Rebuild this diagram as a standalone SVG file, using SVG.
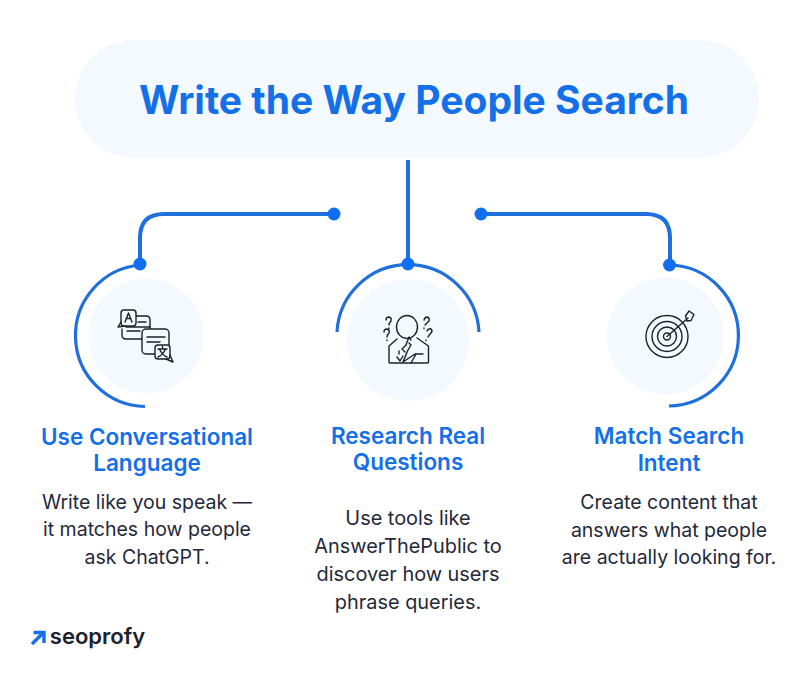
<svg xmlns="http://www.w3.org/2000/svg" width="809" height="676" viewBox="0 0 809 676">
<style>
text{font-family:"Inter","Liberation Sans",sans-serif;text-anchor:middle}
.h{font-size:22.500px;font-weight:600;fill:#1470e8}
.b{font-size:19.500px;font-weight:400;fill:#24293a}
.m{font-size:19.900px;font-weight:400;fill:#24293a}
.t{font-size:39px;font-weight:700;fill:#1470e8}
.bg{fill:#f4f8ff}
.arc{fill:none;stroke:#1f6fdc;stroke-width:3.2}
.con{fill:none;stroke:#1f6fdc;stroke-width:4}
.dot{fill:#0f6ef2}
.i{fill:none;stroke:#1d2029;stroke-width:1.400;stroke-linecap:round;stroke-linejoin:round}
</style>
<rect width="809" height="676" fill="#fff"/>
<g id="title"><rect class="bg" x="75" y="40" width="684" height="118" rx="59"/><text class="t" x="414" y="113.500">Write the Way People Search</text></g>
<g id="connectors">
<path class="con" d="M408 160V264"/>
<path class="con" d="M140 264V238Q140 214 164 214H334"/>
<path class="con" d="M481 214H646Q670 214 670 238V265"/>
<circle class="dot" cx="334" cy="214" r="6.500"/>
<circle class="dot" cx="481" cy="214" r="6.500"/>
</g>
<g id="node-left">
<circle class="bg" cx="146" cy="336" r="57.500"/>
<path class="arc" d="M140 265A70.900 70.900 0 0 0 145 406.500"/>
<circle class="dot" cx="140" cy="264" r="6.500"/>
<g class="i">
<path d="M136 316H146Q150 316 150 320V335Q150 339 146 339H126Q122 339 122 335V329"/>
<path d="M126 327H150M127 331H140M138 322H146"/>
<rect x="121" y="310" width="15" height="16" rx="3" fill="#f4f8ff"/><path d="M121 322L118 327L125 326M125 322L128.500 313L132 322M126.500 318.500H130.500"/>
<rect x="142" y="329" width="27" height="25" rx="4" fill="#f4f8ff"/>
<path d="M147 337H165M147 342H160"/>
<rect x="155" y="345" width="15" height="14" rx="3" fill="#f4f8ff"/><path d="M170 355L173 362L166 359M158 349H167M162.500 346.500V349M159.500 349Q162 355 167 357M165.500 349Q163 355 158 357"/>
</g>
<text class="h" x="147" y="445">Use Conversational</text><text class="h" x="147" y="471">Language</text>
<text class="b" x="147" y="509">Write like you speak —</text><text class="b" x="147" y="536">it matches how people</text><text class="b" x="147" y="564">ask ChatGPT.</text>
</g>
<g id="node-middle">
<circle class="bg" cx="408" cy="340" r="61"/>
<path class="arc" d="M337 332A71.100 71.100 0 0 1 479 332"/>
<circle class="dot" cx="408" cy="264" r="6.500"/>
<g class="i">
<ellipse cx="407" cy="327" rx="10.500" ry="11.500"/>
<path d="M397 339L389 346V362Q389 363 390 363H427.500Q428.500 363 428.500 362V346L417 338"/>
<path d="M403 362L408 350L411 345L409 343M411 340L409 337L406 345L402 349L405 352M415 354L403 362M416 354L411 363M416 354H423M399 351V354M397 357L400 361L403 356" />
<path d="M386 320Q386 317 389 317Q392 318 391 321Q389 323 389 325M389 328V328.500M384 332Q384 329 387 329Q390 330 389 333Q387 335 387 337M387 340V340.500M424 320Q425 317 427 317Q430 318 429 321Q427 323 425 325M424 328V328.500M427 331Q428 328 431 329Q433 331 431 333Q429 335 428 337M426 340V340.500"/>
</g>
<text class="h" x="408" y="444">Research Real</text><text class="h" x="408" y="470">Questions</text>
<text class="m" x="408" y="525">Use tools like</text><text class="m" x="408" y="553">AnswerThePublic to</text><text class="m" x="408" y="581">discover how users</text><text class="m" x="408" y="609">phrase queries.</text>
</g>
<g id="node-right">
<circle class="bg" cx="665.500" cy="336" r="58.500"/>
<path class="arc" d="M670 265A70.520 70.520 0 0 1 669 406"/>
<circle class="dot" cx="669.500" cy="265" r="6.500"/>
<g class="i">
<circle cx="667" cy="336.500" r="21"/><circle cx="667" cy="336.500" r="15"/><circle cx="667" cy="336.500" r="9.500"/><circle cx="667" cy="336.500" r="3.500"/>
<path d="M667 336.500L688 318M685.500 316L689 311L694 314.500L691 320.500L687 321ZM689 311L685.500 316"/>
</g>
<text class="h" x="669" y="444">Match Search</text><text class="h" x="669" y="471">Intent</text>
<text class="b" x="669" y="509">Create content that</text><text class="b" x="669" y="537">answers what people</text><text class="b" x="669" y="564">are actually looking for.</text>
</g>
<g id="logo">
<path d="M32 644L42 634M33.500 632.500H44V643" fill="none" stroke="#1470e8" stroke-width="3.400"/>
<text x="97.500" y="644" style="font-size:22px;font-weight:600;fill:#1c2130">seoprofy</text>
</g>
</svg>
